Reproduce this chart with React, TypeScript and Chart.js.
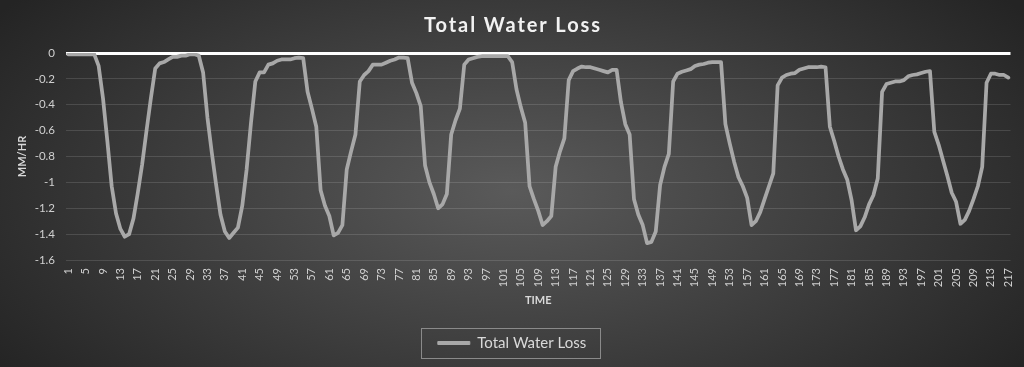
import React, { useEffect, useRef } from 'react';
import { Chart, registerables } from 'chart.js';

Chart.register(...registerables);

const CHART_TITLE = 'Total Water Loss';
const SERIES_NAME = 'Total Water Loss';
const X_TITLE = 'TIME';
const Y_TITLE = 'MM/HR';

const timeSteps: string[] = Array.from({ length: 217 }, (_, i) => String(i + 1));

const waterLoss: number[] = [
  -0.01, -0.01, -0.01, -0.01, -0.01, -0.01, -0.01, -0.1, -0.35, -0.68,
  -1.03, -1.24, -1.36, -1.42, -1.4, -1.28, -1.08, -0.86, -0.6, -0.35,
  -0.12, -0.08, -0.07, -0.05, -0.03, -0.03, -0.02, -0.02, -0.01, -0.01,
  -0.02, -0.15, -0.5, -0.77, -1.02, -1.25, -1.38, -1.43, -1.39, -1.35,
  -1.18, -0.9, -0.54, -0.22, -0.15, -0.15, -0.09, -0.08, -0.06, -0.05,
  -0.05, -0.05, -0.04, -0.035, -0.04, -0.3, -0.43, -0.57, -1.06, -1.18,
  -1.26, -1.41, -1.39, -1.33, -0.9, -0.76, -0.63, -0.22, -0.17, -0.14,
  -0.09, -0.09, -0.09, -0.075, -0.06, -0.05, -0.035, -0.035, -0.04, -0.23,
  -0.31, -0.41, -0.87, -1.0, -1.09, -1.2, -1.17, -1.09, -0.63, -0.52,
  -0.43, -0.09, -0.05, -0.04, -0.03, -0.025, -0.025, -0.025, -0.025, -0.025,
  -0.025, -0.025, -0.07, -0.28, -0.42, -0.54, -1.03, -1.13, -1.22, -1.33,
  -1.3, -1.26, -0.88, -0.76, -0.66, -0.21, -0.14, -0.12, -0.105, -0.11,
  -0.11, -0.12, -0.13, -0.14, -0.15, -0.13, -0.13, -0.38, -0.55, -0.63,
  -1.13, -1.25, -1.33, -1.47, -1.46, -1.38, -1.02, -0.88, -0.78, -0.22,
  -0.16, -0.145, -0.135, -0.125, -0.1, -0.09, -0.085, -0.075, -0.07, -0.07,
  -0.07, -0.55, -0.7, -0.84, -0.96, -1.03, -1.12, -1.33, -1.3, -1.23,
  -1.13, -1.03, -0.93, -0.25, -0.19, -0.17, -0.16, -0.155, -0.13, -0.12,
  -0.11, -0.11, -0.11, -0.105, -0.11, -0.57, -0.68, -0.8, -0.9, -0.98,
  -1.14, -1.37, -1.34, -1.27, -1.17, -1.1, -0.97, -0.3, -0.24, -0.23,
  -0.22, -0.22, -0.21, -0.18, -0.17, -0.165, -0.155, -0.145, -0.14, -0.61,
  -0.71, -0.83, -0.95, -1.08, -1.15, -1.32, -1.29, -1.22, -1.13, -1.03,
  -0.88, -0.23, -0.16, -0.16, -0.17, -0.17, -0.19,
];

const yTickValues: number[] = [0, -0.2, -0.4, -0.6, -0.8, -1, -1.2, -1.4, -1.6];
const yTickLabels: string[] = ['0', '-0.2', '-0.4', '-0.6', '-0.8', '-1', '-1.2', '-1.4', '-1.6'];

const FONT = 'Lato, "Open Sans", "Liberation Sans", sans-serif';

const backgroundPlugin = {
  id: 'bgGradient',
  beforeDraw(chart: any) {
    const { ctx, width, height } = chart;
    const cx = width / 2;
    const cy = height * 0.52;
    const sy = 0.5;
    ctx.save();
    ctx.translate(cx, cy);
    ctx.scale(1, sy);
    const g = ctx.createRadialGradient(0, 0, 0, 0, 0, 625);
    g.addColorStop(0, '#5a5a5a');
    g.addColorStop(1, '#242424');
    ctx.fillStyle = g;
    ctx.fillRect(-cx - 5, -cy / sy - 5, width + 10, height / sy + 10);
    ctx.restore();
  },
};

// Spaced chart title (Excel title style uses expanded character spacing)
const spacedTitlePlugin = {
  id: 'spacedTitle',
  afterDraw(chart: any) {
    const { ctx, width } = chart;
    ctx.save();
    ctx.font = `bold 20px ${FONT}`;
    ctx.fillStyle = '#f2f2f2';
    ctx.textAlign = 'center';
    ctx.textBaseline = 'middle';
    try {
      (ctx as any).letterSpacing = '1.9px';
    } catch (e) {
      /* ignore */
    }
    ctx.fillText(CHART_TITLE, width / 2 + 1, 26);
    ctx.restore();
  },
};

const legendBoxPlugin = {
  id: 'legendBox',
  afterDraw(chart: any) {
    const lg = chart.legend;
    if (!lg || !lg.legendHitBoxes || !lg.legendHitBoxes.length) return;
    const hb = lg.legendHitBoxes[0];
    const { ctx } = chart;
    ctx.save();
    ctx.strokeStyle = '#8a8a8a';
    ctx.lineWidth = 1;
    const x0 = Math.round(hb.left - 17) + 0.5;
    const x1 = Math.round(hb.left + hb.width + 14) + 0.5;
    const y0 = Math.round(hb.top - 7.5) + 0.5;
    const y1 = Math.round(hb.top + hb.height + 7.5) + 0.5;
    ctx.strokeRect(x0, y0, x1 - x0, y1 - y0);
    ctx.restore();
  },
};

export default function App() {
  const canvasRef = useRef<HTMLCanvasElement | null>(null);

  useEffect(() => {
    const canvas = canvasRef.current;
    if (!canvas) return;
    const chart = new Chart(canvas, {
      type: 'line',
      data: {
        labels: timeSteps,
        datasets: [
          {
            label: SERIES_NAME,
            data: waterLoss,
            borderColor: '#a8a8a8',
            backgroundColor: '#a8a8a8',
            borderWidth: 3.75,
            pointRadius: 0,
            pointHoverRadius: 0,
            tension: 0,
            borderJoinStyle: 'round',
            borderCapStyle: 'round',
            fill: false,
          },
        ],
      },
      options: {
        responsive: false,
        animation: false,
        layout: { padding: { left: 0, right: 0, top: 53, bottom: 6.5 } },
        plugins: {
          title: { display: false },
          legend: {
            display: true,
            position: 'bottom',
            labels: {
              color: '#d9d9d9',
              font: { family: FONT, size: 15 },
              boxWidth: 32,
              boxHeight: 3,
              padding: 10,
              generateLabels: () => [
                {
                  text: SERIES_NAME,
                  fillStyle: '#a8a8a8',
                  strokeStyle: '#a8a8a8',
                  lineWidth: 1,
                  hidden: false,
                  datasetIndex: 0,
                  fontColor: '#d9d9d9',
                },
              ],
            },
          },
          tooltip: { enabled: false },
        },
        scales: {
          x: {
            type: 'category',
            offset: true,
            grid: { display: false, drawTicks: false },
            border: { display: false },
            ticks: {
              autoSkip: false,
              minRotation: 90,
              maxRotation: 90,
              padding: 8,
              color: '#d0d0d0',
              font: { family: FONT, size: 11 },
              callback: function (this: any, value: any, index: number) {
                return index % 4 === 0 ? timeSteps[index] : '';
              },
            },
            title: {
              display: true,
              text: X_TITLE,
              color: '#d9d9d9',
              font: { family: FONT, size: 11, weight: 'bold', lineHeight: 1.2 },
              padding: { top: 0, bottom: 18.4 },
            },
            afterFit: (scale: any) => {
              scale.height = 65.5;
              scale.paddingLeft = 0;
              scale.paddingRight = 13.5;
            },
          },
          y: {
            min: -1.6,
            max: 0,
            afterBuildTicks: (scale: any) => {
              scale.ticks = yTickValues.map((v) => ({ value: v }));
            },
            grid: {
              drawTicks: false,
              color: (ctx: any) =>
                ctx.tick && Math.abs(ctx.tick.value) < 1e-9 ? '#ffffff' : 'rgba(255,255,255,0.13)',
              lineWidth: (ctx: any) => (ctx.tick && Math.abs(ctx.tick.value) < 1e-9 ? 3 : 1),
            },
            border: { display: false },
            ticks: {
              padding: 11,
              color: '#d0d0d0',
              font: { family: FONT, size: 11.5 },
              callback: (value: any) => {
                const idx = yTickValues.findIndex((v) => Math.abs(v - Number(value)) < 1e-6);
                return idx >= 0 ? yTickLabels[idx] : '';
              },
            },
            title: {
              display: true,
              text: Y_TITLE,
              color: '#d9d9d9',
              font: { family: FONT, size: 11, weight: 'bold', lineHeight: 1.2 },
              padding: { top: 15.4, bottom: 0 },
            },
            afterFit: (scale: any) => {
              scale.width = 66;
            },
          },
        },
      },
      plugins: [backgroundPlugin, spacedTitlePlugin, legendBoxPlugin],
    } as any);
    return () => chart.destroy();
  }, []);

  return (
    <div style={{ position: 'absolute', left: 0, top: 0, width: 1024, height: 367 }}>
      <canvas ref={canvasRef} width={1024} height={367} style={{ display: 'block', width: 1024, height: 367 }} />
    </div>
  );
}
